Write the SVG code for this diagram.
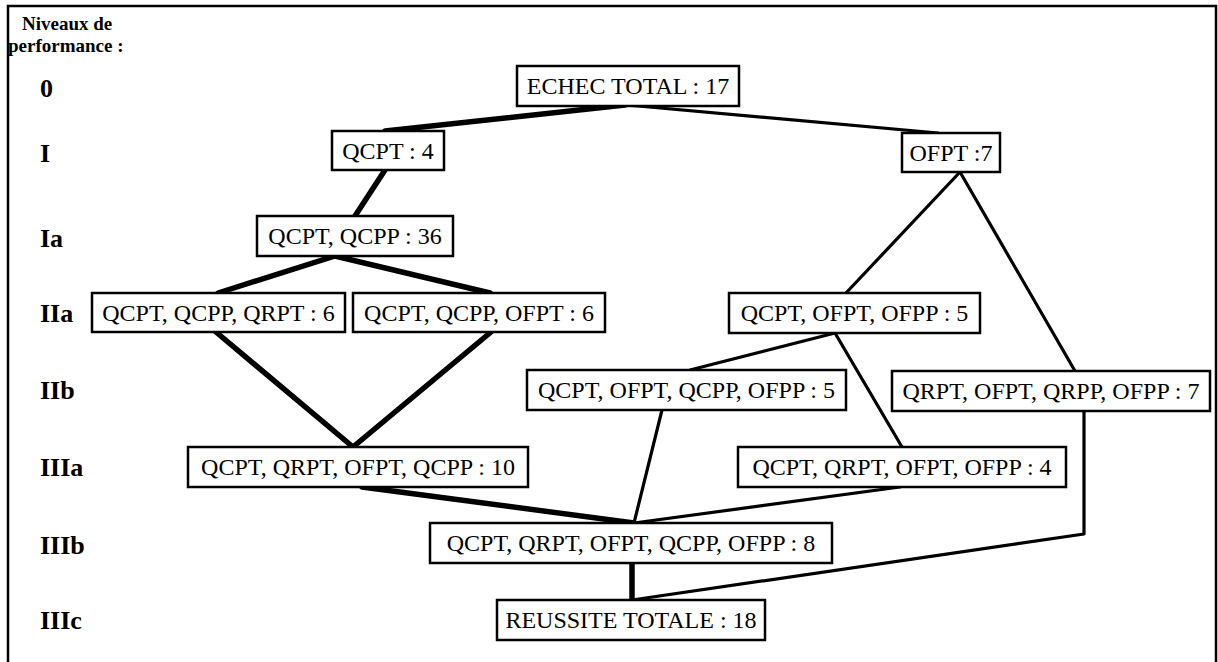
<svg xmlns="http://www.w3.org/2000/svg" width="1218" height="662" viewBox="0 0 1218 662">
<style>
.box{fill:#fff;stroke:#000;stroke-width:2.5}
.t{font-family:"Liberation Serif","Times New Roman",serif;font-size:24px;text-anchor:middle;fill:#000}
.lv{font-family:"Liberation Serif","Times New Roman",serif;font-size:26px;font-weight:bold;fill:#000}
.hd{font-family:"Liberation Serif","Times New Roman",serif;font-size:19px;font-weight:bold;fill:#000}
.thick{stroke:#000;stroke-width:5.5;fill:none;stroke-linecap:round;stroke-linejoin:round}
.thin{stroke:#000;stroke-width:3.2;fill:none;stroke-linecap:round;stroke-linejoin:round}
</style>
<rect x="8" y="6" width="1208" height="680" fill="#fff" stroke="#000" stroke-width="2.5"/>
<g id="levels">
<text class="hd" x="22" y="30">Niveaux de</text>
<text class="hd" x="8" y="52">performance :</text>
<text class="lv" x="40" y="97">0</text>
<text class="lv" x="40" y="162">I</text>
<text class="lv" x="40" y="247">Ia</text>
<text class="lv" x="40" y="322">IIa</text>
<text class="lv" x="40" y="399">IIb</text>
<text class="lv" x="40" y="476">IIIa</text>
<text class="lv" x="40" y="554">IIIb</text>
<text class="lv" x="40" y="629">IIIc</text>
</g>
<g id="connectors">
<line class="thick" x1="625" y1="105" x2="385" y2="131"/>
<line class="thin" x1="627" y1="105" x2="938" y2="133"/>
<line class="thick" x1="385" y1="170" x2="355" y2="216"/>
<line class="thick" x1="335" y1="256" x2="218" y2="293"/>
<line class="thick" x1="335" y1="256" x2="490" y2="293"/>
<line class="thick" x1="216" y1="332" x2="353" y2="447"/>
<line class="thick" x1="491" y1="332" x2="353" y2="447"/>
<line class="thin" x1="960" y1="172" x2="846" y2="293"/>
<line class="thin" x1="960" y1="172" x2="1075" y2="371"/>
<line class="thin" x1="835" y1="333" x2="690" y2="370"/>
<line class="thin" x1="835" y1="333" x2="902" y2="447"/>
<line class="thin" x1="662" y1="410" x2="634" y2="523"/>
<polyline class="thin" points="1084,411 1084,534 632,600"/>
<line class="thick" x1="362" y1="487" x2="634" y2="523"/>
<line class="thin" x1="900" y1="487" x2="634" y2="523"/>
<line class="thick" x1="632" y1="563" x2="632" y2="600"/>
</g>
<g id="n0"><rect class="box" x="517" y="66" width="222" height="40"/><text class="t" x="628" y="94">ECHEC TOTAL : 17</text></g>
<g id="n1"><rect class="box" x="332" y="131" width="112" height="39"/><text class="t" x="388" y="159">QCPT : 4</text></g>
<g id="n2"><rect class="box" x="902" y="133" width="98" height="39"/><text class="t" x="951" y="161">OFPT :7</text></g>
<g id="n3"><rect class="box" x="257" y="216" width="196" height="40"/><text class="t" x="355" y="244">QCPT, QCPP : 36</text></g>
<g id="n4"><rect class="box" x="92" y="293" width="253" height="39"/><text class="t" x="218.5" y="321">QCPT, QCPP, QRPT : 6</text></g>
<g id="n5"><rect class="box" x="353" y="293" width="252" height="39"/><text class="t" x="479" y="321">QCPT, QCPP, OFPT : 6</text></g>
<g id="n6"><rect class="box" x="729" y="293" width="251" height="40"/><text class="t" x="854.5" y="321">QCPT, OFPT, OFPP : 5</text></g>
<g id="n7"><rect class="box" x="527" y="370" width="319" height="40"/><text class="t" x="686.5" y="398">QCPT, OFPT, QCPP, OFPP : 5</text></g>
<g id="n8"><rect class="box" x="892" y="371" width="318" height="40"/><text class="t" x="1051" y="399">QRPT, OFPT, QRPP, OFPP : 7</text></g>
<g id="n9"><rect class="box" x="188" y="447" width="340" height="40"/><text class="t" x="358" y="475">QCPT, QRPT, OFPT, QCPP : 10</text></g>
<g id="n10"><rect class="box" x="738" y="447" width="328" height="40"/><text class="t" x="902" y="475">QCPT, QRPT, OFPT, OFPP : 4</text></g>
<g id="n11"><rect class="box" x="430" y="523" width="402" height="40"/><text class="t" x="631" y="551">QCPT, QRPT, OFPT, QCPP, OFPP : 8</text></g>
<g id="n12"><rect class="box" x="497" y="600" width="268" height="40"/><text class="t" x="631" y="628">REUSSITE TOTALE : 18</text></g>
</svg>
